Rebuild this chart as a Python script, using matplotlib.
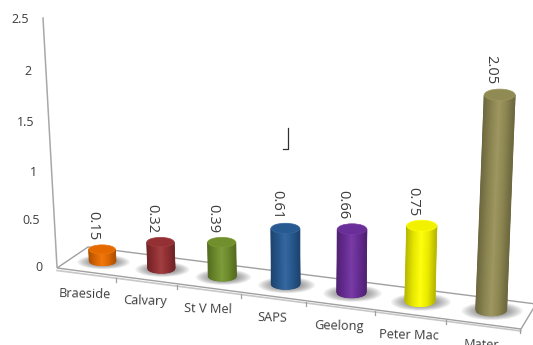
import numpy as np
import matplotlib
matplotlib.use("Agg")
import matplotlib.pyplot as plt
from matplotlib.colors import LinearSegmentedColormap
from matplotlib.patches import Ellipse, Polygon

categories = ["Braeside", "Calvary", "St V Mel", "SAPS", "Geelong", "Peter Mac", "Mater"]
values = [0.15, 0.32, 0.39, 0.61, 0.66, 0.75, 2.05]
value_labels = ["0.15", "0.32", "0.39", "0.61", "0.66", "0.75", "2.05"]
bar_colors = ["#F07000", "#9C3336", "#76962F", "#2A5F9A", "#7030A0", "#FFFF00", "#989158"]
y_ticks = [0, 0.5, 1, 1.5, 2, 2.5]
y_tick_labels = ["0", "0.5", "1", "1.5", "2", "2.5"]

plt.rcParams["font.family"] = ["Open Sans", "DejaVu Sans"]
TEXT = "#3C3C3C"


def front_x(u):
    return (56.95 * u + 57) / (1 - 0.01768 * u)


def front_y(x):
    return 270 + (x - 57) * 0.128


def axis_y(v):
    return 267 - (92.7 * v + 2.6 * v * v)


def base_point(i):
    u = i + 0.5
    x = front_x(u) + 17 - 1.3 * u
    return x, 261 + 0.126 * (x - 102)


def unit_height(i):
    return 78 + 4.5 * i


def lean(x):
    return (x - 312) * 0.00022


def shade(color, f):
    c = np.array(matplotlib.colors.to_rgb(color))
    if f < 1:
        return tuple(c * f)
    return tuple(c + (1 - c) * (f - 1))


fig = plt.figure(figsize=(5.33, 3.45), dpi=100)
ax = fig.add_axes([0, 0, 1, 1])

# floor
floor = Polygon([(57, 268), (88, 247), (536, 304), (521, 329)], closed=True,
                facecolor="white", edgecolor="#A0A0A0", linewidth=1.0, zorder=1)
ax.add_patch(floor)
ax.plot([57, 521], [270.5, 331], color="#C8C8C8", lw=1.2, zorder=0.9)
for t in range(1, 8):
    tx = front_x(t)
    ax.plot([tx, tx], [front_y(tx), front_y(tx) + 4], color="#A0A0A0", lw=0.9, zorder=1)

# vertical axis
ax.plot([43, 57], [18, 267], color="#A8A8A8", lw=1.1, zorder=1)
for v, lab in zip(y_ticks, y_tick_labels):
    y = axis_y(v)
    x = 43 + 14 * (1 - v / 2.5)
    ax.text(x - 14, y + 0.5, lab, ha="right", va="center", fontsize=9, color=TEXT)

# stray cursor mark
ax.plot([283, 288, 288], [149, 149, 128], color="#303030", lw=0.9, zorder=1)

# bars
for i, (val, col) in enumerate(zip(values, bar_colors)):
    bx, by = base_point(i)
    h = val * unit_height(i)
    w = 26.5 + 0.7 * i
    ry = 4.5 + 0.2 * i
    # soft shadow on the floor
    for s in np.linspace(1, 0.4, 14):
        ax.add_patch(Ellipse((bx + 1, by + 1), w * 2.0 * s, ry * 3.2 * s,
                             facecolor="#404040", edgecolor="none", alpha=0.055, zorder=2))
    tx = bx + lean(bx) * h
    ty = by - h
    # cylinder body: smooth round shading
    cmap = LinearSegmentedColormap.from_list(
        "cyl", [shade(col, 0.72), shade(col, 0.9), shade(col, 1.06), shade(col, 0.92), shade(col, 0.72)])
    t = np.linspace(-1, 1, 41)
    arc = ry * np.sqrt(1 - t * t)
    X = np.vstack([tx + t * w / 2, bx + t * w / 2])
    Y = np.vstack([np.full_like(t, ty), by + arc])
    C = np.vstack([t, t])
    ax.pcolormesh(X, Y, C, shading="gouraud", cmap=cmap, vmin=-1, vmax=1, zorder=3 + i * 0.01)
    ax.add_patch(Ellipse((tx, ty), w, ry * 2, facecolor=shade(col, 0.95),
                         edgecolor=shade(col, 1.05), linewidth=0.5, zorder=3.5))
    ax.text(tx - 9, ty - ry - 19, value_labels[i], rotation=-90, ha="center", va="center",
            fontsize=10.5, color=TEXT, zorder=5)

# category labels
for i, c in enumerate(categories):
    x = front_x(i + 0.5)
    ax.text(x - 1, front_y(x) + 20, c, ha="center", va="center", fontsize=9.2,
            rotation=-1.5, color=TEXT, zorder=5, clip_on=True)

ax.set_xlim(0, 533)
ax.set_ylim(345, 0)
ax.axis("off")
fig.savefig("out.png", dpi=100)
